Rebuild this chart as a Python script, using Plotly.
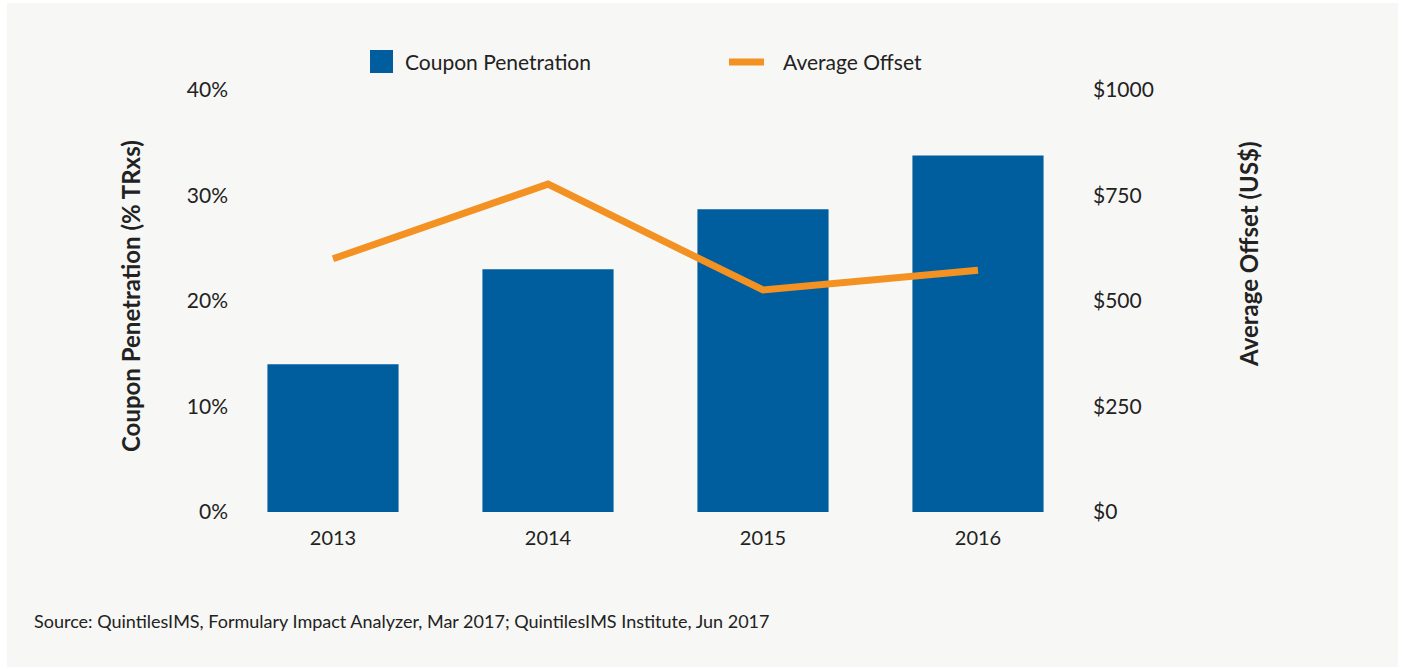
import plotly.graph_objects as go

years = ["2013", "2014", "2015", "2016"]
coupon_penetration = [14.0, 23.0, 28.7, 33.8]   # % TRxs
average_offset = [600, 777, 526, 573]            # US$
left_ticks = [0, 10, 20, 30, 40]
left_tick_labels = ["0%", "10%", "20%", "30%", "40%"]
right_ticks = [0, 250, 500, 750, 1000]
right_tick_labels = ["$0", "$250", "$500", "$750", "$1000"]

BLUE = "#005e9e"
ORANGE = "#f39122"
TEXT = "#222222"
BG = "#f7f7f5"
FONT = "Lato"

W, H = 1403, 670
L, R, T, B = 240, 323, 90, 158
PW = W - L - R
PH = H - T - B

def px_x(x):
    return (x - L) / PW

def px_y(y):
    return (H - B - y) / PH

fig = go.Figure()
fig.add_trace(go.Bar(
    x=list(range(len(years))), y=coupon_penetration, name="Coupon Penetration",
    marker=dict(color=BLUE, line=dict(width=0)), width=0.61, yaxis="y",
    showlegend=False,
))
fig.add_trace(go.Scatter(
    x=list(range(len(years))), y=average_offset, name="Average Offset",
    mode="lines", line=dict(color=ORANGE, width=7), yaxis="y2",
    showlegend=False,
))

# category spacing 215px, first category at x=333px
x0 = (L - 333) / 215
x1 = (W - R - 333) / 215

fig.update_layout(
    width=W, height=H,
    margin=dict(l=L, r=R, t=T, b=B, pad=0),
    paper_bgcolor="white", plot_bgcolor=BG,
    font=dict(family=FONT, color=TEXT, size=20),
    xaxis=dict(range=[x0, x1], tickmode="array", tickvals=list(range(len(years))),
               ticktext=years, showgrid=False, zeroline=False, showline=False,
               ticks="", ticklabelstandoff=12, tickfont=dict(size=20, color=TEXT)),
    yaxis=dict(range=[0, 40], tickmode="array", tickvals=left_ticks,
               ticktext=left_tick_labels, showgrid=False, zeroline=False,
               showline=False, ticks="", ticklabelstandoff=11,
               tickfont=dict(size=21, color=TEXT)),
    yaxis2=dict(range=[0, 1000], overlaying="y", side="right", tickmode="array",
                tickvals=right_ticks, ticktext=right_tick_labels, showgrid=False,
                zeroline=False, showline=False, ticks="", ticklabelstandoff=12,
                tickfont=dict(size=21, color=TEXT)),
    showlegend=False,
)

# background panel
fig.add_shape(type="rect", xref="paper", yref="paper", layer="below",
              x0=px_x(7), x1=px_x(1398), y0=px_y(667), y1=px_y(3),
              fillcolor=BG, line=dict(width=0))

# custom legend
fig.add_shape(type="rect", xref="paper", yref="paper",
              x0=px_x(370), x1=px_x(393), y0=px_y(73), y1=px_y(50),
              fillcolor=BLUE, line=dict(width=0))
fig.add_annotation(x=px_x(403), y=px_y(62), xref="paper", yref="paper",
                   xanchor="left", yanchor="middle", showarrow=False,
                   text="Coupon Penetration", font=dict(size=21, color=TEXT))
fig.add_shape(type="line", xref="paper", yref="paper",
              x0=px_x(729), x1=px_x(764), y0=px_y(62), y1=px_y(62),
              line=dict(color=ORANGE, width=7))
fig.add_annotation(x=px_x(781), y=px_y(62), xref="paper", yref="paper",
                   xanchor="left", yanchor="middle", showarrow=False,
                   text="Average Offset", font=dict(size=21, color=TEXT))

# axis titles
fig.add_annotation(x=px_x(130), y=px_y(296), xref="paper", yref="paper",
                   textangle=-90, showarrow=False, xanchor="center", yanchor="middle",
                   text="<b>Coupon Penetration (% TRxs)</b>",
                   font=dict(size=24, color=TEXT))
fig.add_annotation(x=px_x(1248), y=px_y(254), xref="paper", yref="paper",
                   textangle=-90, showarrow=False, xanchor="center", yanchor="middle",
                   text="<b>Average Offset (US$)</b>",
                   font=dict(size=24, color=TEXT))

# source
fig.add_annotation(x=px_x(32), y=px_y(621), xref="paper", yref="paper",
                   xanchor="left", yanchor="middle", showarrow=False,
                   text="Source: QuintilesIMS, Formulary Impact Analyzer, Mar 2017; QuintilesIMS Institute, Jun 2017",
                   font=dict(size=18, color=TEXT))

fig.write_html("out.html", config={"displayModeBar": False},
               post_script="document.body.style.margin='0';")
